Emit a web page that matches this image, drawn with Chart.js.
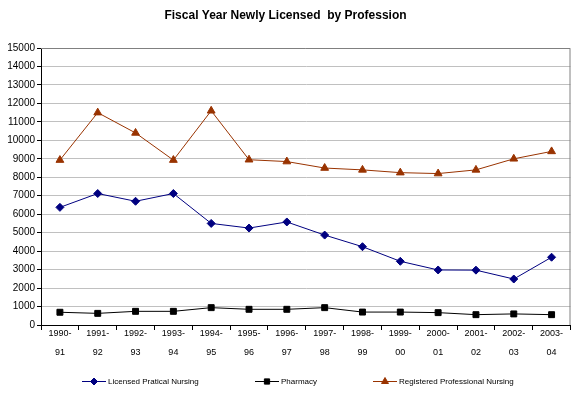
<!DOCTYPE html>
<html>
<head>
<meta charset="utf-8">
<script src="https://cdn.jsdelivr.net/npm/chart.js@4/dist/chart.umd.min.js"></script>
<style>
html,body{margin:0;padding:0;background:#fff;}
#wrap{width:576px;height:395px;}
</style>
</head>
<body>
<div id="wrap"><canvas id="c" width="576" height="395"></canvas></div>
<script>
const categories = [["1990-","91"],["1991-","92"],["1992-","93"],["1993-","94"],["1994-","95"],["1995-","96"],["1996-","97"],["1997-","98"],["1998-","99"],["1999-","00"],["2000-","01"],["2001-","02"],["2002-","03"],["2003-","04"]];
const licensedPracticalNursing = [6370, 7120, 6700, 7120, 5500, 5250, 5580, 4870, 4240, 3450, 2980, 2970, 2490, 3670];
const pharmacy = [690, 630, 740, 740, 940, 850, 850, 940, 700, 700, 670, 560, 600, 560];
const registeredProfessionalNursing = [8930, 11500, 10400, 8930, 11600, 8950, 8850, 8500, 8400, 8250, 8200, 8400, 9000, 9400];
const seriesNames = ["Licensed Pratical Nursing", "Pharmacy", "Registered Professional Nursing"];
const yTicks = {min: 0, max: 15000, step: 1000};

const FONT = "Arial, 'Liberation Sans', sans-serif";

const frame = {
  id: 'frame',
  beforeDatasetsDraw(chart) {
    const {ctx, chartArea: a} = chart;
    ctx.save();
    ctx.strokeStyle = '#808080';
    ctx.lineWidth = 1;
    ctx.beginPath();
    ctx.moveTo(a.left, a.top + 0.5);
    ctx.lineTo(a.right - 0.5, a.top + 0.5);
    ctx.lineTo(a.right - 0.5, a.bottom);
    ctx.stroke();
    ctx.restore();
  }
};

const customLegend = {
  id: 'customLegend',
  afterDraw(chart) {
    const {ctx} = chart;
    const y = 381;
    const starts = [82, 255, 373];
    chart.data.datasets.forEach((ds, i) => {
      const x = starts[i];
      ctx.save();
      ctx.strokeStyle = ds.borderColor;
      ctx.lineWidth = 1;
      ctx.beginPath();
      ctx.moveTo(x, y + 0.5);
      ctx.lineTo(x + 24, y + 0.5);
      ctx.stroke();
      ctx.fillStyle = ds.pointBackgroundColor;
      ctx.strokeStyle = ds.pointBorderColor;
      ctx.lineWidth = 1;
      Chart.helpers.drawPoint(ctx, {pointStyle: ds.pointStyle, radius: ds.pointRadius - 0.5, borderWidth: 1, rotation: 0}, x + 12, y + 0.5);
      ctx.font = "8px " + FONT;
      ctx.textBaseline = 'middle';
      ctx.fillStyle = '#000';
      ctx.fillText(ds.label, x + 26, y + 1);
      ctx.restore();
    });
  }
};

new Chart(document.getElementById('c'), {
  type: 'line',
  data: {
    labels: categories,
    datasets: [
      {label: seriesNames[0], data: licensedPracticalNursing, borderColor: '#000080', backgroundColor: '#000080',
       pointBackgroundColor: '#000080', pointBorderColor: '#000080', pointStyle: 'rectRot', pointRadius: 4, borderWidth: 1, tension: 0},
      {label: seriesNames[1], data: pharmacy, borderColor: '#000000', backgroundColor: '#000000',
       pointBackgroundColor: '#000000', pointBorderColor: '#000000', pointStyle: 'rect', pointRadius: 4.2, borderWidth: 1, tension: 0},
      {label: seriesNames[2], data: registeredProfessionalNursing, borderColor: '#993300', backgroundColor: '#993300',
       pointBackgroundColor: '#993300', pointBorderColor: '#993300', pointStyle: 'triangle', pointRadius: 4.5, borderWidth: 1, tension: 0}
    ]
  },
  options: {
    responsive: false,
    animation: false,
    devicePixelRatio: 1,
    layout: {padding: {left: 0, right: 5, top: 0, bottom: 30}},
    plugins: {
      legend: {display: false},
      tooltip: {enabled: false},
      title: {
        display: true,
        text: 'Fiscal Year Newly Licensed  by Profession',
        color: '#000',
        font: {family: FONT, size: 12, weight: 'bold'},
        padding: {top: 8, bottom: 25.6}
      }
    },
    scales: {
      x: {
        offset: true,
        grid: {offset: true, drawOnChartArea: false, drawTicks: true, tickLength: 5, color: '#000'},
        border: {color: '#000', width: 1},
        ticks: {color: '#000', font: {family: FONT, size: 9, lineHeight: 2.1}, maxRotation: 0, autoSkip: false, padding: -6},
        afterFit(s) { s.height = 40; }
      },
      y: {
        min: yTicks.min, max: yTicks.max,
        grid: {color: '#c0c0c0', tickLength: 4, tickColor: '#000'},
        border: {color: '#000', width: 1},
        ticks: {stepSize: yTicks.step, color: '#000', font: {family: FONT, size: 10}, padding: 2,
                callback: v => String(v)},
        afterFit(s) { s.width = 41; }
      }
    }
  },
  plugins: [frame, customLegend]
});
</script>
</body>
</html>
